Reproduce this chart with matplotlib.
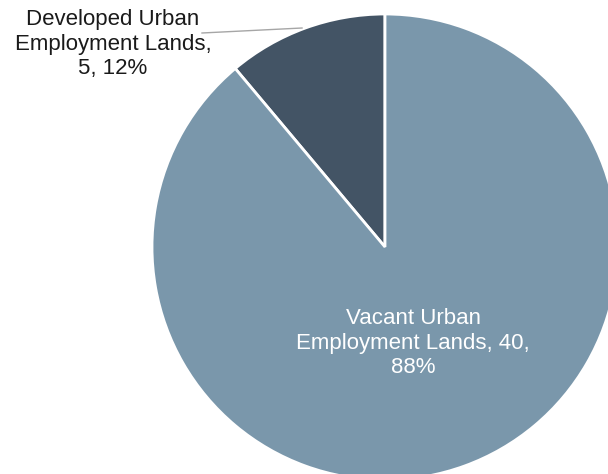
import matplotlib
matplotlib.use("Agg")
import matplotlib.pyplot as plt

categories = ["Developed Urban Employment Lands", "Vacant Urban Employment Lands"]
values = [5, 40]
percents = [12, 88]
colors = ["#435465", "#7A97AB"]

plt.rcParams['font.family'] = ['Liberation Sans', 'DejaVu Sans']

fig = plt.figure(figsize=(6.08, 4.74), dpi=100)
ax = fig.add_axes([0, 0, 1, 1])

cx, cy, r = 385, 474 - 247, 233
wedges, _ = ax.pie(values, colors=colors, startangle=90, counterclock=True,
                   center=(cx, cy), radius=r, frame=True,
                   wedgeprops=dict(edgecolor='white', linewidth=2))
ax.set_xlim(0, 608)
ax.set_ylim(0, 474)
ax.set_aspect('equal')
ax.axis('off')

# Developed label (outside, with leader line)
ax.text(113, 474 - 44, "Developed Urban\nEmployment Lands,\n%d, %d%%" % (values[0], percents[0]),
        ha='center', va='center', fontsize=16, color='#1a1a1a', linespacing=1.2)
ax.plot([202, 302], [474 - 33, 474 - 28], color='#a6a6a6', lw=1)

# Vacant label (inside)
ax.text(413, 474 - 343, "Vacant Urban\nEmployment Lands, %d,\n%d%%" % (values[1], percents[1]),
        ha='center', va='center', fontsize=16, color='white', linespacing=1.22)

fig.savefig("out.png", dpi=100)
